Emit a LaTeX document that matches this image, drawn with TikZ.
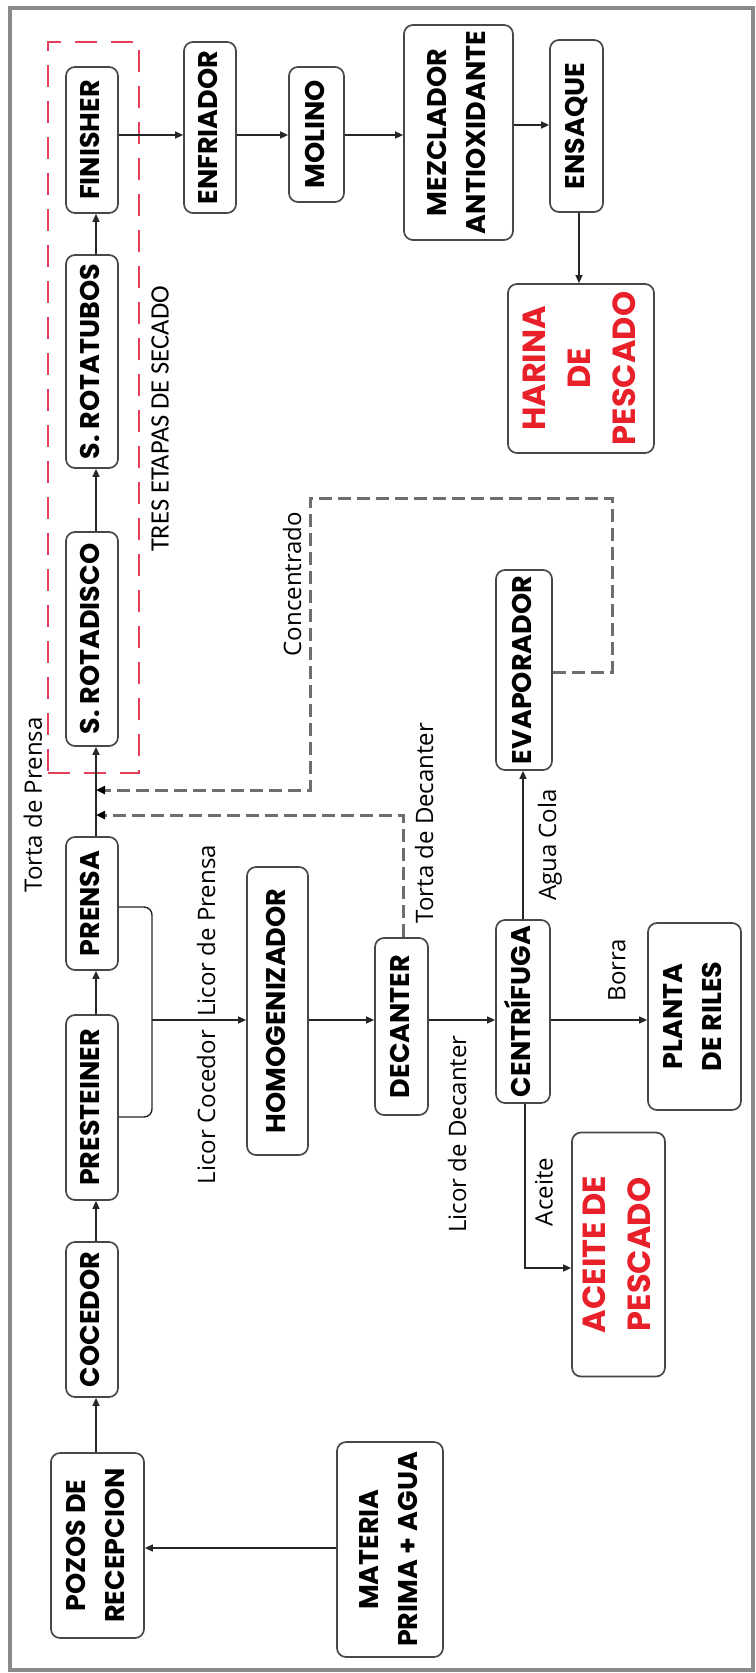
\documentclass[tikz,border=0pt]{standalone}
\usepackage{fontspec}
\usepackage{graphicx}
\usetikzlibrary{arrows.meta}
\newfontfamily\bx{Poppins}
\newfontfamily\lb{Open Sans}
\newfontfamily\cb{Carlito}
\definecolor{frc}{HTML}{8A8A8A}
\definecolor{rdt}{HTML}{E8202A}
\definecolor{rdash}{HTML}{E0405A}
\definecolor{dgray}{HTML}{6E6E6E}
\newcommand\vt[1]{\rotatebox{90}{\begin{tabular}{@{}c@{}}#1\end{tabular}}}
\begin{document}
\begin{tikzpicture}[x=1pt,y=-1pt,
  box/.style={draw=black!72, line width=1.7pt, rounded corners=9pt, fill=white, inner sep=0pt,
    font=\bx\bfseries\fontsize{27}{39}\selectfont},
  sz/.style 2 args={minimum width=#1pt, minimum height=#2pt},
  redtxt/.style={text=rdt, font=\bx\bfseries\fontsize{32}{45}\selectfont},
  lab/.style={inner sep=0pt, font=\lb\fontsize{24}{28}\selectfont},
  ln/.style={draw=black!85, line width=1.4pt},
  ar/.style={ln, -{Triangle[length=8pt,width=7pt]}},
  dsh/.style={draw=dgray, line width=3pt, dash pattern=on 13pt off 6pt,
    -{Triangle[length=9pt,width=8pt,color=black]}},
  rdsh/.style={draw=rdash, line width=1.6pt, dash pattern=on 22pt off 14pt},
  frame/.style={draw=frc, line width=4pt}]
\useasboundingbox (0,0) rectangle (755,1673);
\draw[frame] (10,8) rectangle (753,1670);

% drying stages
\node[rdsh, inner sep=0pt, sz={91}{731}] (dry) at (93.5,407.5) {};

% boxes
\node[box,sz={52}{146}] (fin) at (92,140) {\vt{FINISHER}};
\node[box,sz={52}{171}] (enf) at (210,127.5) {\vt{ENFRIADOR}};
\node[box,sz={55}{135}] (mol) at (316.5,134.5) {\vt{MOLINO}};
\node[box,sz={109}{215}] (mez) at (458.5,132.5) {\vt{MEZCLADOR\\ANTIOXIDANTE}};
\node[box,sz={53}{172}] (ens) at (576.5,126) {\vt{ENSAQUE}};
\node[box,sz={146}{169},redtxt] (har) at (581,368.5) {\vt{HARINA\\DE\\PESCADO}};
\node[box,sz={52}{213}] (rtub) at (92,361.5) {\vt{S. ROTATUBOS}};
\node[box,sz={52}{214}] (rdis) at (92,639) {\vt{S. ROTADISCO}};
\node[box,sz={52}{133}] (pre) at (92,903.5) {\vt{PRENSA}};
\node[box,sz={52}{185}] (pst) at (92,1107.5) {\vt{PRESTEINER}};
\node[box,sz={52}{155}] (coc) at (92,1319.5) {\vt{COCEDOR}};
\node[box,sz={93}{185}] (poz) at (97.5,1545.5) {\vt{POZOS DE\\RECEPCION}};
\node[box,sz={106}{215}] (mat) at (390,1549.5) {\vt{MATERIA\\PRIMA + AGUA}};
\node[box,sz={61}{288}] (hom) at (277.5,1011) {\vt{HOMOGENIZADOR}};
\node[box,sz={53}{177}] (dec) at (401.5,1026.5) {\vt{DECANTER}};
\node[box,sz={54}{183}] (cen) at (523,1011.5) {\vt{CENTRÍFUGA}};
\node[box,sz={56}{200}] (eva) at (524,670) {\vt{EVAPORADOR}};
\node[box,sz={93}{187}] (pla) at (694.5,1016.5) {\vt{PLANTA\\DE RILES}};
\node[box,sz={93}{244},redtxt] (ace) at (618.5,1254.5) {\vt{ACEITE\kern6pt DE\\PESCADO}};

% labels
\node[lab] (lTP) at (33,805) {\rotatebox{90}{Torta de Prensa}};
\node[inner sep=0pt, font=\cb\fontsize{26.5}{30}\selectfont] (lTE) at (160,419) {\rotatebox{90}{TRES ETAPAS DE SECADO}};
\node[lab] (lCO) at (292,584) {\rotatebox{90}{Concentrado}};
\node[lab] (lTD) at (424,823) {\rotatebox{90}{Torta de Decanter}};
\node[lab] (lAC) at (550,845) {\rotatebox{90}{Agua Cola}};
\node[lab] (lLP) at (206,931) {\rotatebox{90}{Licor de Prensa}};
\node[lab] (lLC) at (206,1107) {\rotatebox{90}{Licor Cocedor}};
\node[lab] (lLD) at (457,1134) {\rotatebox{90}{Licor de Decanter}};
\node[lab] (lBO) at (617,970) {\rotatebox{90}{Borra}};
\node[lab] (lAI) at (544,1192) {\rotatebox{90}{Aceite}};

% helper coordinates
\coordinate (t1) at (0,135);
\coordinate (t2) at (0,125);
\coordinate (hx) at (579,0);
\coordinate (cx) at (96,0);
\coordinate (r) at (0,1020);
\coordinate (m) at (0,1548);
\coordinate (b1) at (152,907);
\coordinate (b2) at (152,1117);
\coordinate (a1) at (525,1268);
\coordinate (c1) at (612,672);
\coordinate (c2) at (612,498);
\coordinate (c3) at (310,498);
\coordinate (c4) at (310,790);
\coordinate (d1) at (403,815);

% top row
\draw[ar] (fin.east |- t1) -- (enf.west |- t1);
\draw[ar] (enf.east |- t1) -- (mol.west |- t1);
\draw[ar] (mol.east |- t1) -- (mez.west |- t1);
\draw[ar] (mez.east |- t2) -- (ens.west |- t2);
\draw[ar] (ens.south -| hx) -- (har.north -| hx);

% main column
\draw[ar] (rdis.north -| cx) -- (rtub.south -| cx);
\draw[ar] (rtub.north -| cx) -- (fin.south -| cx);
\draw[ar] (pre.north -| cx) -- (rdis.south -| cx);
\draw[ar] (pst.north -| cx) -- (pre.south -| cx);
\draw[ar] (coc.north -| cx) -- (pst.south -| cx);
\draw[ar] (poz.north -| cx) -- (coc.south -| cx);
\draw[ar] (mat.west |- m) -- (poz.east |- m);

% liquor line
\draw[ln, rounded corners=8pt] (pre.east |- b1) -- (b1) -- (b2) -- (pst.east |- b2);
\draw[ar] (b1 |- r) -- (hom.west |- r);
\draw[ar] (hom.east |- r) -- (dec.west |- r);
\draw[ar] (dec.east |- r) -- (cen.west |- r);
\draw[ar] (cen.east |- r) -- (pla.west |- r);
\draw[ar] (cen.north) -- (eva.south -| cen.north);
\draw[ar] (cen.south -| a1) -- (a1) -- (ace.west |- a1);

% recycled streams
\draw[dsh] (eva.east |- c1) -- (c1) -- (c2) -- (c3) -- (c4) -- (cx |- c4);
\draw[dsh] (dec.north -| d1) -- (d1) -- (cx |- d1);
\end{tikzpicture}
\end{document}
